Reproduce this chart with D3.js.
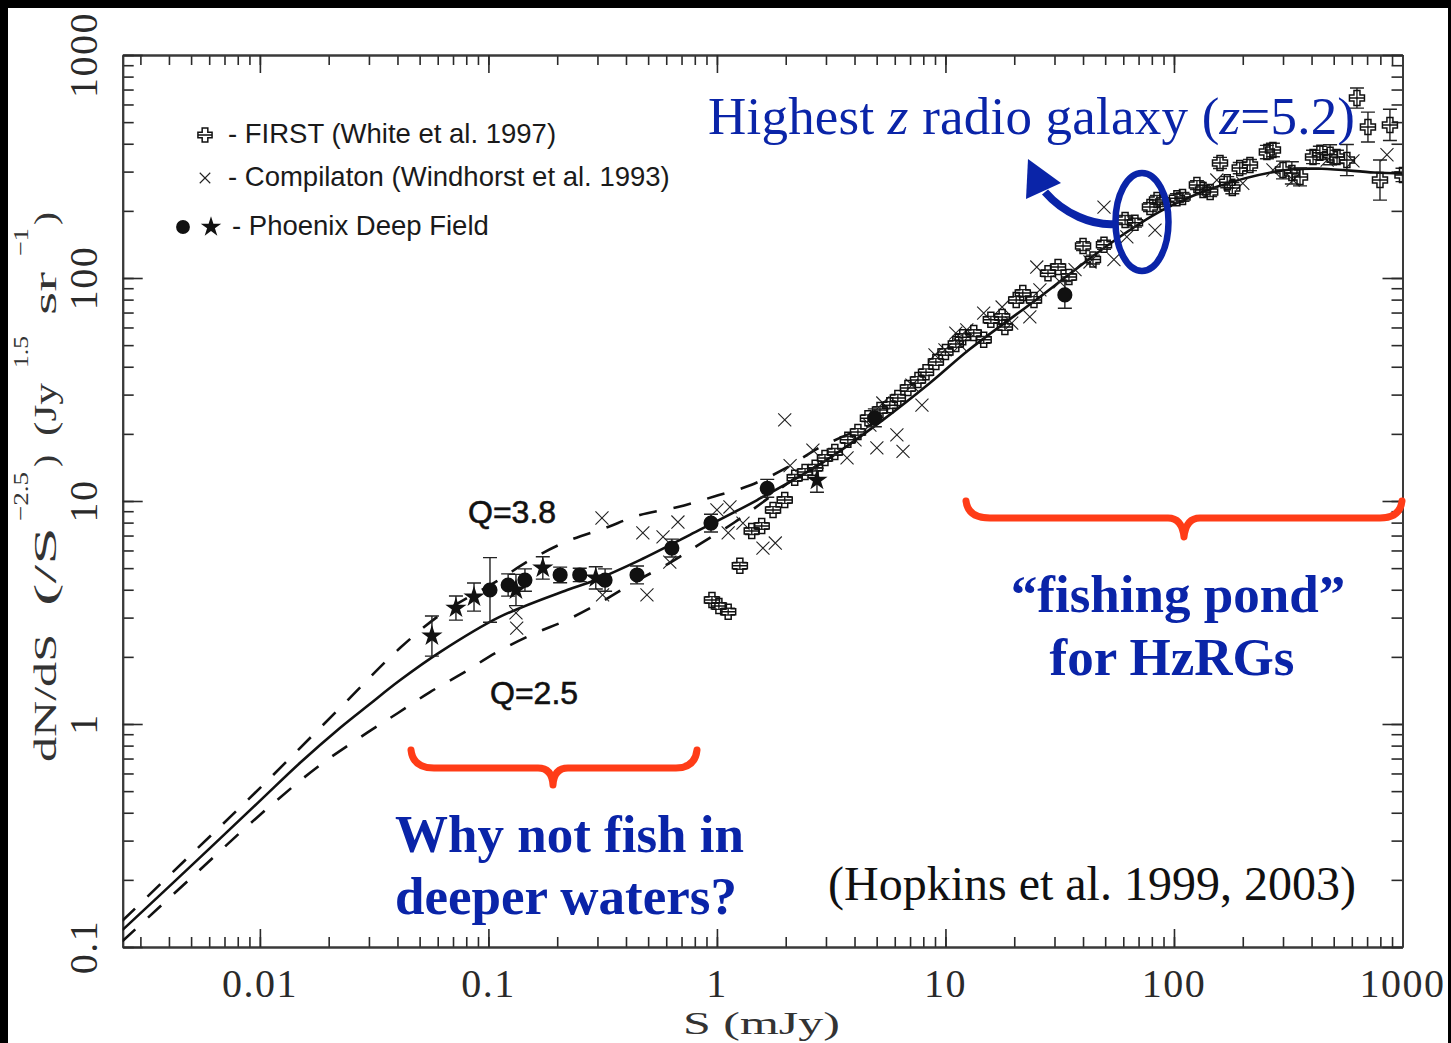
<!DOCTYPE html>
<html>
<head>
<meta charset="utf-8">
<script src="https://cdn.jsdelivr.net/npm/d3@7"></script>
<style>
  html, body { margin: 0; padding: 0; background: #000; }
  svg { display: block; }
</style>
</head>
<body>
<svg id="chart" width="1451" height="1043"></svg>
<script>
// Euclidean-normalised 1.4 GHz source counts, dN/dS * S^2.5 (Jy^1.5 sr^-1) vs S (mJy)

// Model fit (solid line)
const fitS = [0.0025, 0.005, 0.01, 0.015, 0.0224, 0.03, 0.041, 0.0614, 0.112, 0.221, 0.287, 0.460, 0.762, 1.50, 2.91, 5.33, 8.55, 12.8, 25.9, 53.0, 89.5, 153, 309, 444, 750, 1000];
const fitN = [0.119, 0.231, 0.452, 0.670, 0.96, 1.22, 1.57, 2.10, 3.02, 3.99, 4.38, 5.43, 7.05, 10.1, 14.9, 23.1, 33.8, 48.0, 82.2, 143.6, 202, 256, 305, 309, 297, 294];

// Evolution model with Q = 3.8 (upper dashed)
const q38S = [0.0025, 0.005, 0.01, 0.0224, 0.041, 0.0632, 0.108, 0.157, 0.223, 0.324, 0.460, 0.675, 0.98, 1.41, 2.02, 2.85, 5.33];
const q38N = [0.131, 0.260, 0.516, 1.18, 2.19, 3.15, 4.35, 5.54, 6.62, 7.57, 8.65, 9.40, 10.5, 11.8, 14.1, 17.5, 23.1];

// Evolution model with Q = 2.5 (lower dashed)
const q25S = [0.0025, 0.005, 0.01, 0.018, 0.0294, 0.0402, 0.0555, 0.0773, 0.109, 0.157, 0.221, 0.311, 0.438, 0.630, 0.851, 1.20, 1.57, 2.09, 2.91];
const q25N = [0.106, 0.204, 0.391, 0.645, 0.912, 1.12, 1.39, 1.69, 2.10, 2.53, 2.93, 3.52, 4.34, 5.32, 6.45, 8.05, 9.8, 12.2, 14.9];

// FIRST survey counts
const firstS = [0.951, 1.02, 1.12, 1.26, 1.42, 1.57, 1.76, 1.98, 2.19, 2.43, 2.69, 2.97, 3.28, 3.74, 4.14, 4.58, 5.17, 5.71, 6.19, 6.85, 7.58, 8.22, 9.08, 10.0, 11.1, 11.9, 13.3, 14.7, 15.8, 17.7, 18.2, 20.4, 21.8, 24.4, 28.1, 31.1, 34.7, 40.0, 44.2, 49.4, 61.1, 67.5, 78.5, 84.3, 89.5, 103, 109, 126, 134, 144, 159, 171, 180, 194, 215, 255, 271, 300, 328, 356, 406, 435, 482, 517, 571, 632, 706, 881, 797, 1000];
const firstN = [3.60, 3.38, 3.19, 5.12, 7.33, 7.73, 9.12, 10.1, 12.7, 13.5, 14.1, 15.6, 16.6, 18.8, 20.4, 23.5, 25.6, 26.9, 29.0, 32.1, 34.9, 37.8, 42.0, 46.6, 50.6, 54.3, 56.6, 52.8, 64.9, 66.9, 60.3, 79.7, 85.7, 79.7, 105, 112, 101, 139, 121, 141, 182, 177, 208, 224, 219, 228, 231, 261, 248, 243, 328, 269, 253, 311, 321, 367, 375, 305, 296, 284, 349, 364, 357, 349, 338, 641, 475, 486, 275, 290];
// half-width of the error bars, in dex
const firstErr = [0.015, 0.015, 0.015, 0.015, 0.015, 0.015, 0.015, 0.015, 0.015, 0.015, 0.015, 0.015, 0.015, 0.015, 0.015, 0.015, 0.015, 0.015, 0.015, 0.015, 0.015, 0.015, 0.015, 0.015, 0.015, 0.015, 0.015, 0.015, 0.015, 0.015, 0.015, 0.015, 0.015, 0.015, 0.015, 0.015, 0.015, 0.02, 0.02, 0.02, 0.02, 0.02, 0.02, 0.02, 0.02, 0.02, 0.02, 0.02, 0.02, 0.02, 0.025, 0.025, 0.025, 0.025, 0.025, 0.03, 0.03, 0.04, 0.05, 0.04, 0.03, 0.03, 0.045, 0.03, 0.07, 0.045, 0.067, 0.07, 0.09, 0.03];

// Compilation counts (Windhorst et al. 1993)
const compS = [0.132, 0.133, 0.314, 0.316, 0.474, 0.494, 0.581, 0.622, 0.675, 1.0, 1.14, 1.12, 1.30, 1.59, 1.80, 1.98, 2.09, 2.63, 3.71, 5.01, 6.13, 6.52, 5.32, 7.89, 9.0, 11.1, 12.4, 14.7, 17.7, 19.5, 23.4, 25.1, 49.4, 54.6, 62.2, 82.6, 154, 200, 271, 332, 468, 607, 855, 4.02, 4.67, 7.13, 9.95, 11.6, 31.7, 36.9, 42.9, 25.9];
const compN = [3.15, 2.69, 8.39, 3.79, 7.19, 3.79, 6.90, 5.32, 8.05, 9.12, 9.4, 7.19, 7.96, 6.15, 6.48, 23.1, 14.4, 16.9, 15.6, 17.3, 19.8, 16.7, 27.5, 26.9, 45.2, 56.6, 58.5, 69.6, 74.1, 62.8, 66.9, 112, 208, 121, 153, 164, 275, 266, 305, 275, 338, 335, 357, 18.8, 21.9, 33.1, 47.6, 50.1, 96.0, 109, 118, 88.4];

// Phoenix Deep Field counts (stars and filled circles)
const pdfStarS = [0.0566, 0.0721, 0.0865, 0.132, 0.173, 0.295, 2.74];
const pdfStarN = [2.48, 3.31, 3.71, 3.99, 5.01, 4.52, 12.4];
const pdfStarErr = [0.09, 0.054, 0.063, 0.07, 0.05, 0.05, 0.054];
const pdfCircS = [0.1016, 0.122, 0.1445, 0.206, 0.251, 0.324, 0.447, 0.635, 0.942, 1.66, 4.91, 33.3];
const pdfCircN = [3.99, 4.20, 4.42, 4.66, 4.66, 4.42, 4.66, 6.15, 7.96, 11.4, 23.6, 84.0];
const pdfCircErr = [0.145, 0.05, 0.05, 0.035, 0.03, 0.05, 0.04, 0.04, 0.04, 0.04, 0.04, 0.06];

// Axis ticks
const xMajor = [0.01, 0.1, 1, 10, 100, 1000];
const yMajor = [0.1, 1, 10, 100, 1000];
const xTickLabels = ["0.01", "0.1", "1", "10", "100", "1000"];
const yTickLabels = ["0.1", "1", "10", "100", "1000"];

const BLUE = "#0a24a8";
const RED = "#ff3c17";
const SERIF = "'Liberation Serif', 'Times New Roman', serif";
const SANS = "'Liberation Sans', Arial, sans-serif";

const svg = d3.select("#chart");

// white page inside the black border
svg.append("rect").attr("x", 8).attr("y", 8).attr("width", 1440).attr("height", 1035).attr("fill", "#fff");

const x = d3.scaleLog().domain([0.00251, 1000]).range([122.7, 1402.5]);
const y = d3.scaleLog().domain([0.1, 1000]).range([947, 55]);
const [x0, x1] = x.range();
const [y0, y1] = y.range();

function minorTicks(scale) {
  const [a, b] = scale.domain();
  const out = [];
  for (let k = -4; k <= 3; k++) {
    for (let m = 1; m <= 9; m++) {
      const v = m * Math.pow(10, k);
      if (v >= a * 0.999 && v <= b * 1.001) out.push(+v.toPrecision(6));
    }
  }
  return out;
}

function styleAxis(g) {
  g.selectAll("text").remove();
  g.select(".domain").attr("stroke", "#3a3a3a").attr("stroke-width", 2);
  g.selectAll(".tick line").attr("stroke", "#2a2a2a").attr("stroke-width", 1.6);
}

// inward minor and major ticks on all four sides
const axes = [
  [d3.axisBottom, x, `translate(0,${y0})`, 10, 18],
  [d3.axisTop, x, `translate(0,${y1})`, 10, 18],
  [d3.axisLeft, y, `translate(${x0},0)`, 11, 20],
  [d3.axisRight, y, `translate(${x1},0)`, 11, 20]
];
axes.forEach(([fn, sc, tr, minorLen, majorLen]) => {
  const major = sc === x ? xMajor : yMajor;
  svg.append("g").attr("transform", tr)
    .call(fn(sc).tickValues(minorTicks(sc)).tickSize(-minorLen).tickSizeOuter(0))
    .call(styleAxis);
  svg.append("g").attr("transform", tr)
    .call(fn(sc).tickValues(major).tickSize(-majorLen).tickSizeOuter(0))
    .call(styleAxis);
});

// tick labels
svg.append("g").selectAll("text").data(xMajor).join("text")
  .attr("x", d => x(d)).attr("y", 997)
  .attr("text-anchor", "middle")
  .attr("font-family", SERIF).attr("font-size", 40).attr("letter-spacing", 1.5)
  .attr("fill", "#2a2a2a")
  .text((d, i) => xTickLabels[i]);

svg.append("g").selectAll("text").data(yMajor).join("text")
  .attr("transform", d => `translate(97,${y(d)}) rotate(-90)`)
  .attr("text-anchor", "middle")
  .attr("font-family", SERIF).attr("font-size", 40).attr("letter-spacing", 1.5)
  .attr("fill", "#2a2a2a")
  .text((d, i) => yTickLabels[i]);

// axis titles
svg.append("text").attr("x", 683).attr("y", 1034)
  .attr("font-family", SERIF).attr("font-size", 31).attr("fill", "#333")
  .attr("textLength", 157).attr("lengthAdjust", "spacingAndGlyphs")
  .text("S (mJy)");

const yTitle = [
  { t: "dN/dS", x: 56, from: 762, to: 634, fs: 31 },
  { t: "(/S", x: 56, from: 606, to: 527, fs: 31 },
  { t: "\u22122.5", x: 28, from: 521, to: 472, fs: 22 },
  { t: ")", x: 56, from: 467, to: 455, fs: 31 },
  { t: "(Jy", x: 56, from: 436, to: 383, fs: 31 },
  { t: "1.5", x: 28, from: 368, to: 336, fs: 22 },
  { t: "sr", x: 56, from: 315, to: 272, fs: 31 },
  { t: "\u22121", x: 28, from: 256, to: 228, fs: 22 },
  { t: ")", x: 56, from: 225, to: 212, fs: 31 }
];
svg.append("g").selectAll("text").data(yTitle).join("text")
  .attr("transform", d => `translate(${d.x},${d.from}) rotate(-90)`)
  .attr("font-family", SERIF).attr("font-size", d => d.fs).attr("fill", "#333")
  .attr("textLength", d => d.from - d.to).attr("lengthAdjust", "spacingAndGlyphs")
  .text(d => d.t);

// plot area clip
svg.append("clipPath").attr("id", "plotClip").append("rect")
  .attr("x", x0).attr("y", y1).attr("width", x1 - x0).attr("height", y0 - y1);
const plot = svg.append("g").attr("clip-path", "url(#plotClip)");

// model curves
const line = d3.line().x(d => x(d[0])).y(d => y(d[1])).curve(d3.curveCatmullRom.alpha(0.5));
const zip = (a, b) => a.map((v, i) => [v, b[i]]);
plot.append("path").datum(zip(q38S, q38N)).attr("d", line)
  .attr("fill", "none").attr("stroke", "#111").attr("stroke-width", 2.6).attr("stroke-dasharray", "18,17");
plot.append("path").datum(zip(q25S, q25N)).attr("d", line)
  .attr("fill", "none").attr("stroke", "#111").attr("stroke-width", 2.6).attr("stroke-dasharray", "18,17");
plot.append("path").datum(zip(fitS, fitN)).attr("d", line)
  .attr("fill", "none").attr("stroke", "#111").attr("stroke-width", 2.6);

// marker shapes
const firstShape = {
  draw(ctx, size) {
    const L = Math.sqrt(size) / 2, a = L * 0.4;
    ctx.moveTo(-a, -L); ctx.lineTo(a, -L); ctx.lineTo(a, -a); ctx.lineTo(L, -a);
    ctx.lineTo(L, a); ctx.lineTo(a, a); ctx.lineTo(a, L); ctx.lineTo(-a, L);
    ctx.lineTo(-a, a); ctx.lineTo(-L, a); ctx.lineTo(-L, -a); ctx.lineTo(-a, -a);
    ctx.closePath();
    ctx.moveTo(-L, 0); ctx.lineTo(L, 0);
  }
};
const crossShape = {
  draw(ctx, size) {
    const r = Math.sqrt(size) / 2;
    ctx.moveTo(-r, -r); ctx.lineTo(r, r);
    ctx.moveTo(-r, r); ctx.lineTo(r, -r);
  }
};

function errorBars(g, S, N, E, cap) {
  const d = S.map((s, i) => ({ s, lo: N[i] * Math.pow(10, -E[i]), hi: N[i] * Math.pow(10, E[i]) }));
  const eb = g.append("g").attr("stroke", "#222").attr("stroke-width", 1.4).attr("fill", "none");
  eb.selectAll("path").data(d).join("path")
    .attr("d", e => {
      const cx = x(e.s), a = y(e.lo), b = y(e.hi);
      return `M${cx},${a}V${b}M${cx - cap},${a}H${cx + cap}M${cx - cap},${b}H${cx + cap}`;
    });
}

// compilation crosses
plot.append("g").selectAll("path").data(zip(compS, compN)).join("path")
  .attr("transform", d => `translate(${x(d[0])},${y(d[1])})`)
  .attr("d", d3.symbol(crossShape, 170))
  .attr("fill", "none").attr("stroke", "#222").attr("stroke-width", 1.1);

// FIRST
errorBars(plot, firstS, firstN, firstErr, 7);
plot.append("g").selectAll("path").data(zip(firstS, firstN)).join("path")
  .attr("transform", d => `translate(${x(d[0])},${y(d[1])})`)
  .attr("d", d3.symbol(firstShape, 225))
  .attr("fill", "none").attr("stroke", "#111").attr("stroke-width", 1.5);

// Phoenix Deep Field
errorBars(plot, pdfCircS, pdfCircN, pdfCircErr, 7);
errorBars(plot, pdfStarS, pdfStarN, pdfStarErr, 7);
plot.append("g").selectAll("path").data(zip(pdfCircS, pdfCircN)).join("path")
  .attr("transform", d => `translate(${x(d[0])},${y(d[1])})`)
  .attr("d", d3.symbol(d3.symbolCircle, 180)).attr("fill", "#111");
plot.append("g").selectAll("path").data(zip(pdfStarS, pdfStarN)).join("path")
  .attr("transform", d => `translate(${x(d[0])},${y(d[1])})`)
  .attr("d", d3.symbol(d3.symbolStar, 140)).attr("fill", "#111");

// legend
const lg = svg.append("g");
lg.append("path").attr("transform", "translate(205,135)").attr("d", d3.symbol(firstShape, 200))
  .attr("fill", "none").attr("stroke", "#111").attr("stroke-width", 1.5);
lg.append("path").attr("transform", "translate(205,178)").attr("d", d3.symbol(crossShape, 110))
  .attr("fill", "none").attr("stroke", "#222").attr("stroke-width", 1.1);
lg.append("path").attr("transform", "translate(183,227)").attr("d", d3.symbol(d3.symbolCircle, 150)).attr("fill", "#111");
lg.append("path").attr("transform", "translate(211,227)").attr("d", d3.symbol(d3.symbolStar, 130)).attr("fill", "#111");
const legendRows = [
  { t: "- FIRST (White et al. 1997)", x: 228, y: 143 },
  { t: "- Compilaton (Windhorst et al. 1993)", x: 228, y: 186 },
  { t: "- Phoenix Deep Field", x: 232, y: 235 }
];
lg.selectAll("text").data(legendRows).join("text")
  .attr("x", d => d.x).attr("y", d => d.y)
  .attr("font-family", SANS).attr("font-size", 27.5).attr("fill", "#1a1a1a")
  .text(d => d.t);

// model labels
svg.append("text").attr("x", 468).attr("y", 523).attr("font-family", SANS).attr("font-size", 32)
  .attr("fill", "#111").attr("stroke", "#111").attr("stroke-width", 0.6).text("Q=3.8");
svg.append("text").attr("x", 490).attr("y", 704).attr("font-family", SANS).attr("font-size", 32)
  .attr("fill", "#111").attr("stroke", "#111").attr("stroke-width", 0.6).text("Q=2.5");

// annotations
const hz = svg.append("text").attr("x", 708).attr("y", 134)
  .attr("font-family", SERIF).attr("font-size", 53).attr("fill", BLUE)
  .attr("textLength", 647).attr("lengthAdjust", "spacing");
hz.append("tspan").text("Highest ");
hz.append("tspan").attr("font-style", "italic").text("z");
hz.append("tspan").text(" radio galaxy (");
hz.append("tspan").attr("font-style", "italic").text("z");
hz.append("tspan").text("=5.2)");

svg.append("ellipse").attr("cx", 1142).attr("cy", 222).attr("rx", 26.5).attr("ry", 49)
  .attr("fill", "none").attr("stroke", BLUE).attr("stroke-width", 6.5);
svg.append("path").attr("d", "M1116,224 C1093,226 1064,214 1045,192")
  .attr("fill", "none").attr("stroke", BLUE).attr("stroke-width", 8);
svg.append("path").attr("d", "M1028,159 L1026,199 L1061,183 Z").attr("fill", BLUE);

const boldLines = [
  { t: "\u201Cfishing pond\u201D", x: 1178, y: 612, anchor: "middle" },
  { t: "for HzRGs", x: 1172, y: 675, anchor: "middle" },
  { t: "Why not fish in", x: 395, y: 852, anchor: "start" },
  { t: "deeper waters?", x: 395, y: 914, anchor: "start" }
];
svg.append("g").selectAll("text").data(boldLines).join("text")
  .attr("x", d => d.x).attr("y", d => d.y).attr("text-anchor", d => d.anchor)
  .attr("font-family", SERIF).attr("font-weight", "bold").attr("font-size", 53).attr("fill", BLUE)
  .text(d => d.t);

svg.append("text").attr("x", 828).attr("y", 900)
  .attr("font-family", SERIF).attr("font-size", 48).attr("fill", "#111")
  .text("(Hopkins et al. 1999, 2003)");

// curly braces
const braces = svg.append("g").attr("fill", "none").attr("stroke", RED).attr("stroke-width", 7)
  .attr("stroke-linecap", "round").attr("stroke-linejoin", "round");
braces.append("path").attr("d", "M411,750 Q413,768 434,768 L538,768 Q552,768 553,785 Q554,768 568,768 L676,768 Q695,768 697,750");
braces.append("path").attr("d", "M966,501 Q968,518 990,518 L1168,518 Q1182,518 1184,537 Q1186,518 1200,518 L1380,518 Q1400,518 1402,501");
</script>
</body>
</html>
